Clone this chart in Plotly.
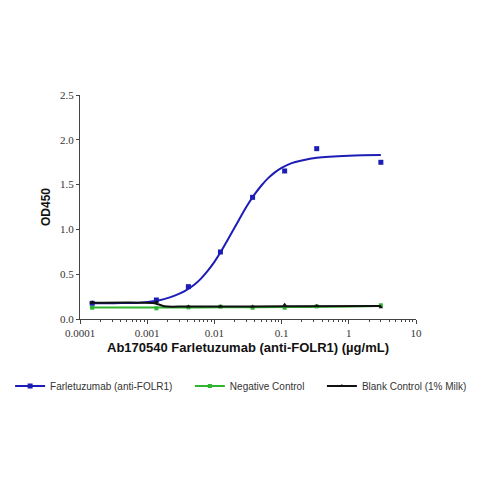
import plotly.graph_objects as go

# concentrations (ug/mL)
conc = [0.000152, 0.00137, 0.0041, 0.0123, 0.037, 0.111, 0.333, 3.0]

farle_od = [0.175, 0.212, 0.361, 0.748, 1.358, 1.652, 1.901, 1.749]
neg_od = [0.126, 0.119, 0.130, 0.138, 0.126, 0.126, 0.141, 0.153]
blank_od = [0.186, 0.190, 0.140, 0.140, 0.140, 0.160, 0.145, 0.132]

# fitted curves
farle_fit_x = [0.00014, 0.000316, 0.00078, 0.0013, 0.00178, 0.00251, 0.00355,
               0.00501, 0.00631, 0.00794, 0.01, 0.0126, 0.0158, 0.02, 0.0251,
               0.0316, 0.0398, 0.0501, 0.0631, 0.0794, 0.1, 0.141, 0.2,
               0.333, 1.0, 3.0]
farle_fit_y = [0.175, 0.177, 0.182, 0.200, 0.222, 0.258, 0.308,
               0.382, 0.451, 0.536, 0.637, 0.755, 0.885, 1.02, 1.153,
               1.28, 1.393, 1.49, 1.572, 1.636, 1.686, 1.74, 1.77,
               1.80, 1.823, 1.83]
neg_fit_x = [0.00014, 0.00137, 0.0123, 0.111, 1.0, 3.0]
neg_fit_y = [0.128, 0.128, 0.130, 0.133, 0.140, 0.145]
blank_fit_x = [0.00014, 0.0012, 0.00145, 0.0018, 0.0041, 0.111, 3.0]
blank_fit_y = [0.180, 0.178, 0.165, 0.142, 0.140, 0.142, 0.145]

BLUE = "#1c1cb6"
GREEN = "#2fb52f"
BLACK = "#111111"

fig = go.Figure()

series = [
    ("Farletuzumab (anti-FOLR1)", farle_fit_x, farle_fit_y, farle_od, BLUE, "square", 5, "legend"),
    ("Negative Control", neg_fit_x, neg_fit_y, neg_od, GREEN, "square", 4, "legend2"),
    ("Blank Control (1% Milk)", blank_fit_x, blank_fit_y, blank_od, BLACK, "triangle-up", 4, "legend3"),
]

for name, fx, fy, od, col, sym, sz, lg in series:
    # fitted curve
    fig.add_trace(go.Scatter(
        x=fx, y=fy, mode="lines", line=dict(color=col, width=2, shape="spline"),
        showlegend=False, hoverinfo="skip",
    ))
    # measured points
    fig.add_trace(go.Scatter(
        x=conc, y=od, mode="markers", name=name, showlegend=False,
        marker=dict(color=col, symbol=sym, size=sz),
    ))
    # legend sample: line + marker
    fig.add_trace(go.Scatter(
        x=[None], y=[None], mode="lines+markers", name=name, legend=lg,
        line=dict(color=col, width=2), marker=dict(color=col, symbol=sym, size=sz),
    ))

leg_font = dict(family="Liberation Sans, Arial", size=10, color="#333333")
leg_common = dict(orientation="h", yanchor="middle", y=-0.299, xanchor="left",
                  bgcolor="rgba(0,0,0,0)", font=leg_font, itemwidth=30)

# page has an 8px body margin, so the figure is a bit smaller than the window
fig.update_layout(
    width=471, height=471,
    margin=dict(l=72, r=63, t=87, b=160, autoexpand=False),
    paper_bgcolor="white", plot_bgcolor="white",
    legend=dict(x=-0.208, **leg_common),
    legend2=dict(x=0.327, **leg_common),
    legend3=dict(x=0.720, **leg_common),
    xaxis=dict(
        type="log", range=[-4, 1],
        tickvals=[0.0001, 0.001, 0.01, 0.1, 1, 10],
        ticktext=["0.0001", "0.001", "0.01", "0.1", "1", "10"],
        ticks="outside", ticklen=4, tickcolor="#444444",
        minor=dict(ticks="outside", ticklen=2, tickcolor="#444444",
                   dtick="D1", showgrid=False),
        showline=True, linecolor="#444444", linewidth=1,
        showgrid=False, zeroline=False,
        tickfont=dict(family="Liberation Serif, Times New Roman", size=11, color="#333333"),
        title=dict(text="<b>Ab170540 Farletuzumab (anti-FOLR1) (µg/mL)</b>",
                   font=dict(family="Liberation Sans, Arial", size=13, color="#111111"),
                   standoff=4),
    ),
    yaxis=dict(
        range=[0, 2.5], tickvals=[0, 0.5, 1.0, 1.5, 2.0, 2.5],
        tickformat=".1f",
        ticks="outside", ticklen=3, tickcolor="#444444",
        showline=True, linecolor="#444444", linewidth=1,
        showgrid=False, zeroline=False,
        tickfont=dict(family="Liberation Serif, Times New Roman", size=11, color="#333333"),
        title=dict(text="<b>OD450</b>",
                   font=dict(family="Liberation Sans, Arial", size=12, color="#111111"),
                   standoff=6),
    ),
)

fig.write_html("out.html")
